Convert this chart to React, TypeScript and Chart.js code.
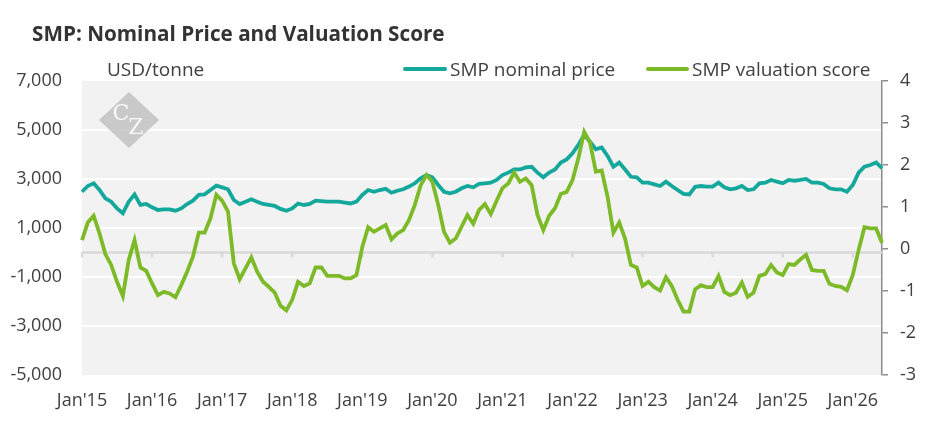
import { useEffect, useRef } from 'react';
import Chart from 'chart.js/auto';

const MONTH_NAMES = ['Jan', 'Feb', 'Mar', 'Apr', 'May', 'Jun', 'Jul', 'Aug', 'Sep', 'Oct', 'Nov', 'Dec'];

// SMP nominal price, USD/tonne, monthly from Jan'15
const nominalPrice = [
    2480, 2714, 2824, 2550, 2212, 2075, 1800, 1600, 2075, 2375, 1940, 1980,
    1845, 1735, 1760, 1760, 1706, 1800, 1980, 2115, 2350, 2375, 2550, 2727,
    2660, 2580, 2143, 1980, 2075, 2170, 2075, 1980, 1940, 1900, 1780, 1706,
    1800, 2000, 1940, 1980, 2115, 2100, 2075, 2075, 2075, 2035, 2000, 2075,
    2350, 2550, 2480, 2550, 2600, 2440, 2520, 2580, 2690, 2824, 3030, 3160,
    3070, 2755, 2480, 2415, 2480, 2620, 2714, 2660, 2800, 2824, 2850, 2960,
    3160, 3260, 3390, 3390, 3470, 3500, 3260, 3070, 3260, 3390, 3670, 3800,
    4050, 4390, 4800, 4520, 4210, 4290, 3940, 3500, 3670, 3390, 3090, 3070,
    2850, 2850, 2780, 2714, 2890, 2714, 2550, 2390, 2370, 2680, 2714, 2690,
    2690, 2850, 2660, 2580, 2620, 2714, 2550, 2580, 2824, 2850, 2960, 2890,
    2824, 2960, 2930, 2960, 3000, 2850, 2850, 2800, 2620, 2580, 2580, 2480,
    2755, 3260, 3500, 3570, 3670, 3440,
];

// SMP valuation score (right axis)
const valuationScore = [
    0.21, 0.63, 0.79, 0.37, -0.12, -0.38, -0.78, -1.12, -0.26, 0.21, -0.44, -0.52,
    -0.82, -1.10, -1.02, -1.06, -1.15, -0.86, -0.54, -0.18, 0.39, 0.39, 0.73, 1.29,
    1.15, 0.89, -0.34, -0.72, -0.46, -0.20, -0.54, -0.78, -0.90, -1.04, -1.35, -1.46,
    -1.21, -0.78, -0.88, -0.82, -0.44, -0.44, -0.64, -0.64, -0.64, -0.70, -0.70, -0.62,
    0.05, 0.52, 0.41, 0.49, 0.57, 0.23, 0.37, 0.45, 0.69, 1.05, 1.52, 1.76,
    1.60, 1.05, 0.41, 0.15, 0.25, 0.53, 0.81, 0.60, 0.93, 1.07, 0.83, 1.15,
    1.45, 1.56, 1.82, 1.60, 1.68, 1.52, 0.81, 0.45, 0.79, 0.97, 1.31, 1.36,
    1.64, 2.16, 2.79, 2.53, 1.84, 1.87, 1.25, 0.39, 0.63, 0.25, -0.38, -0.44,
    -0.88, -0.78, -0.91, -0.99, -0.67, -0.88, -1.21, -1.49, -1.49, -0.96, -0.86, -0.91,
    -0.91, -0.64, -1.02, -1.10, -1.04, -0.80, -1.14, -1.04, -0.64, -0.60, -0.38, -0.56,
    -0.62, -0.36, -0.38, -0.25, -0.14, -0.50, -0.52, -0.52, -0.83, -0.88, -0.90, -0.98,
    -0.62, -0.02, 0.52, 0.49, 0.49, 0.15,
];

const months = nominalPrice.map((_, i) => MONTH_NAMES[i % 12] + "'" + (15 + Math.floor(i / 12)));

const TEAL = '#14a89c';
const GREEN = '#7dba28';
const TEXT = '#404040';
const FONT = "'Open Sans'";

const backdrop = {
    id: 'backdrop',
    beforeDraw(chart: Chart) {
        const { ctx, chartArea: a } = chart;
        ctx.save();
        ctx.fillStyle = '#f2f2f2';
        ctx.fillRect(a.left, a.top, a.right - a.left, a.bottom - a.top);
        ctx.restore();
    },
    beforeDatasetsDraw(chart: Chart) {
        const { ctx, chartArea: a, scales } = chart;
        ctx.save();
        // zero line of the price axis, with january ticks
        const y0 = scales.y.getPixelForValue(0);
        ctx.strokeStyle = '#d9d9d9';
        ctx.lineWidth = 2.5;
        ctx.beginPath();
        ctx.moveTo(a.left, y0);
        ctx.lineTo(a.right, y0);
        for (let i = 0; i < months.length; i += 12) {
            const x = scales.x.getPixelForValue(i);
            ctx.moveTo(x, y0);
            ctx.lineTo(x, y0 + 5);
        }
        ctx.stroke();

        // CZ watermark
        const cx = a.left + 47, cy = a.top + 39;
        ctx.fillStyle = 'rgba(190,190,190,0.8)';
        ctx.beginPath();
        ctx.moveTo(cx, cy - 28);
        ctx.lineTo(cx + 30, cy);
        ctx.lineTo(cx, cy + 28);
        ctx.lineTo(cx - 30, cy);
        ctx.closePath();
        ctx.fill();
        ctx.fillStyle = 'rgba(255,255,255,0.85)';
        ctx.font = "22px 'DejaVu Serif'";
        ctx.textAlign = 'center';
        ctx.textBaseline = 'middle';
        ctx.fillText('C', cx - 8, cy - 6);
        ctx.fillText('Z', cx + 7, cy + 8);
        ctx.restore();
    },
};

function SmpChart() {
    const canvasRef = useRef<HTMLCanvasElement>(null);

    useEffect(() => {
        if (!canvasRef.current) return;
        const chart = new Chart(canvasRef.current, {
            type: 'line',
            data: {
                labels: months,
                datasets: [
                    {
                        label: 'SMP valuation score',
                        data: valuationScore,
                        borderColor: GREEN,
                        borderWidth: 3.8,
                        pointRadius: 0,
                        yAxisID: 'y2',
                        order: 0,
                    },
                    {
                        label: 'SMP nominal price',
                        data: nominalPrice,
                        borderColor: TEAL,
                        borderWidth: 3.8,
                        pointRadius: 0,
                        yAxisID: 'y',
                        order: 1,
                    },
                ],
            },
            options: {
                responsive: true,
                maintainAspectRatio: false,
                animation: false,
                layout: { padding: { top: 81, left: 0, right: 0, bottom: 0 } },
                plugins: {
                    legend: { display: false },
                    tooltip: { enabled: false },
                },
                scales: {
                    x: {
                        type: 'category',
                        grid: { display: false, drawTicks: false },
                        border: { display: false },
                        ticks: {
                            autoSkip: false,
                            maxRotation: 0,
                            minRotation: 0,
                            padding: 15,
                            color: TEXT,
                            font: { family: FONT, size: 18 },
                            callback: (_v, i) => (i % 12 === 0 ? months[i] : ''),
                        },
                        afterFit: (s) => { s.height = 68; },
                    },
                    y: {
                        position: 'left',
                        min: -5000,
                        max: 7000,
                        border: { display: false },
                        grid: {
                            drawTicks: false,
                            lineWidth: 2,
                            color: (c) => (c.tick.value === 7000 || c.tick.value === -5000 ? 'rgba(0,0,0,0)' : '#ffffff'),
                        },
                        ticks: {
                            stepSize: 2000,
                            padding: 20,
                            color: TEXT,
                            font: { family: FONT, size: 18 },
                            callback: (v) => Number(v).toLocaleString('en-US'),
                        },
                        afterFit: (s) => { s.width = 82; },
                    },
                    y2: {
                        position: 'right',
                        min: -3,
                        max: 4,
                        border: { display: true, color: '#8c8c8c', width: 1.5 },
                        grid: { drawOnChartArea: false, tickLength: 6, color: '#8c8c8c', lineWidth: 1.5 },
                        ticks: {
                            stepSize: 1,
                            padding: 12,
                            color: TEXT,
                            font: { family: FONT, size: 18 },
                        },
                        afterFit: (s) => { s.width = 63; },
                    },
                },
            },
            plugins: [backdrop],
        });
        return () => chart.destroy();
    }, []);

    return <canvas ref={canvasRef} />;
}

export default function App() {
    useEffect(() => {
        document.body.style.margin = '0';
    }, []);

    const label = { position: 'absolute' as const, fontFamily: FONT, fontSize: 19, lineHeight: '20px', color: TEXT, whiteSpace: 'nowrap' as const };

    return (
        <div style={{ position: 'relative', width: 945, height: 443, background: '#ffffff' }}>
            <div style={{ position: 'absolute', inset: 0 }}>
                <SmpChart />
            </div>
            <div style={{ position: 'absolute', left: 32, top: 21, fontFamily: FONT, fontWeight: 700, fontSize: 20.7, lineHeight: '24px', color: '#333333', whiteSpace: 'nowrap' }}>
                SMP: Nominal Price and Valuation Score
            </div>
            <div style={{ ...label, left: 107, top: 59 }}>USD/tonne</div>
            <div style={{ position: 'absolute', left: 403, top: 67, width: 44, height: 4, borderRadius: 2, background: TEAL }} />
            <div style={{ ...label, left: 450, top: 59 }}>SMP nominal price</div>
            <div style={{ position: 'absolute', left: 646, top: 67, width: 43, height: 4, borderRadius: 2, background: GREEN }} />
            <div style={{ ...label, left: 692, top: 59 }}>SMP valuation score</div>
        </div>
    );
}
